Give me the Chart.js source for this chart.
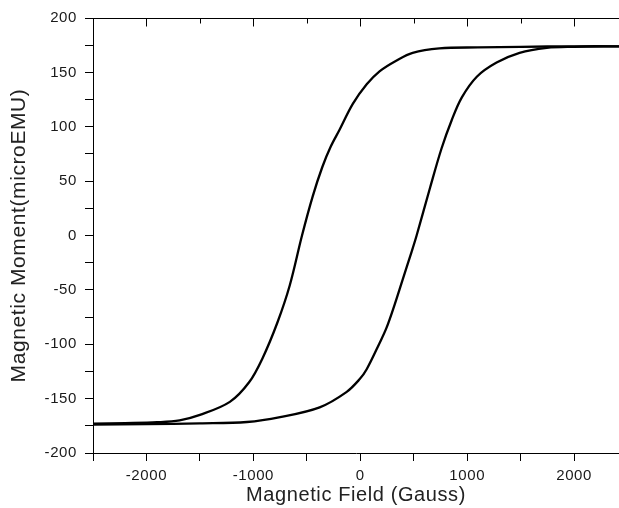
<!DOCTYPE html>
<html>
<head>
<meta charset="utf-8">
<script src="https://cdn.jsdelivr.net/npm/chart.js@4.4.1/dist/chart.umd.min.js"></script>
<style>
  html, body { margin: 0; padding: 0; background: #fff; }
  #box { width: 619px; height: 508px; }
</style>
</head>
<body>
<div id="box"><canvas id="grafico-histerese" width="619" height="508"></canvas></div>
<script>
// ramo que desce (curva da esquerda), campo em Gauss e momento em microEMU
const campoDescida = [-2500, -2200, -1900, -1690, -1500, -1220, -1040, -915, -775, -660, -545, -445, -355, -275, -195, -70, 60, 180, 340, 490, 740, 1100, 1500, 2000, 2420];
const momentoDescida = [-173, -172.5, -171.7, -170, -165, -153, -135, -113, -80, -46, 0, 36, 63, 82, 97, 121, 139, 151, 161, 168, 172, 173, 173.5, 174, 174];

// ramo que sobe (curva da direita)
const campoSubida = [-2500, -2000, -1500, -1060, -750, -380, -130, -5, 60, 180, 245, 320, 395, 480, 527, 650, 760, 855, 950, 1090, 1275, 1490, 1745, 2000, 2420];
const momentoSubida = [-174, -173.5, -172.8, -171.5, -167, -158, -144, -132, -123, -99, -85, -64, -41, -15, 0, 43, 80, 106, 127, 146, 159, 168, 172.5, 173.5, 174];

const ticksX = [-2500, -2000, -1500, -1000, -500, 0, 500, 1000, 1500, 2000];
const ticksY = [-200, -175, -150, -125, -100, -75, -50, -25, 0, 25, 50, 75, 100, 125, 150, 175, 200];

const fonte = "'Liberation Sans', Arial, sans-serif";

function montaPontos(campo, momento) {
  return campo.map((h, i) => ({ x: h, y: momento[i] }));
}

// espaçamento entre letras como no original
const espacamento = {
  id: 'espacamento',
  beforeLayout(chart) {
    chart.ctx.letterSpacing = '0.6px';
  },
  beforeDraw(chart) {
    chart.ctx.letterSpacing = '0.6px';
  },
};

// eixo de cima: linha e marcas para dentro
const eixoSuperior = {
  id: 'eixoSuperior',
  afterDraw(chart) {
    const { ctx, chartArea, scales } = chart;
    const topo = chartArea.top + 0.5;
    ctx.save();
    ctx.strokeStyle = '#000';
    ctx.lineWidth = 1;
    ctx.beginPath();
    ctx.moveTo(chartArea.left, topo);
    ctx.lineTo(chartArea.right, topo);
    scales.x.ticks.forEach((t) => {
      const px = Math.round(scales.x.getPixelForValue(t.value)) + 0.5;
      const tam = t.value % 1000 === 0 ? 8 : 5;
      ctx.moveTo(px, topo);
      ctx.lineTo(px, topo + tam);
    });
    ctx.stroke();
    ctx.restore();
  },
};

const config = {
  type: 'scatter',
  data: {
    datasets: [
      {
        label: 'descida',
        data: montaPontos(campoDescida, momentoDescida),
        showLine: true,
        borderColor: '#000',
        backgroundColor: '#000',
        borderWidth: 2.3,
        pointRadius: 0,
        tension: 0.35,
      },
      {
        label: 'subida',
        data: montaPontos(campoSubida, momentoSubida),
        showLine: true,
        borderColor: '#000',
        backgroundColor: '#000',
        borderWidth: 2.3,
        pointRadius: 0,
        tension: 0.35,
      },
    ],
  },
  options: {
    responsive: false,
    animation: false,
    devicePixelRatio: 1,
    layout: {
      padding: { top: 18, left: 0, right: 0, bottom: 0 },
    },
    plugins: {
      legend: { display: false },
      tooltip: { enabled: false },
    },
    scales: {
      x: {
        type: 'linear',
        min: -2500,
        max: 2420,
        afterBuildTicks: (scale) => {
          scale.ticks = ticksX.map((v) => ({ value: v }));
        },
        afterFit: (scale) => {
          scale.height = 55;
        },
        ticks: {
          autoSkip: false,
          maxRotation: 0,
          padding: 6,
          color: '#1a1a1a',
          font: { family: fonte, size: 15 },
          callback: (v) => (v % 1000 === 0 ? String(v) : ''),
        },
        grid: {
          display: true,
          drawOnChartArea: false,
          drawTicks: true,
          tickLength: 8,
          color: '#000',
        },
        border: { display: true, color: '#000', width: 1 },
        title: {
          display: true,
          text: 'Magnetic Field (Gauss)',
          color: '#222',
          font: { family: fonte, size: 20 },
          padding: { top: 0, bottom: 1 },
        },
      },
      y: {
        type: 'linear',
        min: -200,
        max: 200,
        afterBuildTicks: (scale) => {
          scale.ticks = ticksY.map((v) => ({ value: v }));
        },
        afterFit: (scale) => {
          scale.width = 93;
        },
        ticks: {
          autoSkip: false,
          padding: 8,
          color: '#1a1a1a',
          font: { family: fonte, size: 15 },
          callback: (v) => (v % 50 === 0 ? String(v) : ''),
        },
        grid: {
          display: true,
          drawOnChartArea: false,
          drawTicks: true,
          tickLength: 8,
          color: '#000',
        },
        border: { display: true, color: '#000', width: 1 },
        title: {
          display: true,
          text: 'Magnetic Moment(microEMU)',
          color: '#222',
          font: { family: fonte, size: 21 },
          padding: { top: 7, bottom: 0 },
        },
      },
    },
  },
  plugins: [espacamento, eixoSuperior],
};

let meuGrafico = new Chart(
  document.getElementById('grafico-histerese').getContext('2d'),
  config
);
</script>
</body>
</html>
